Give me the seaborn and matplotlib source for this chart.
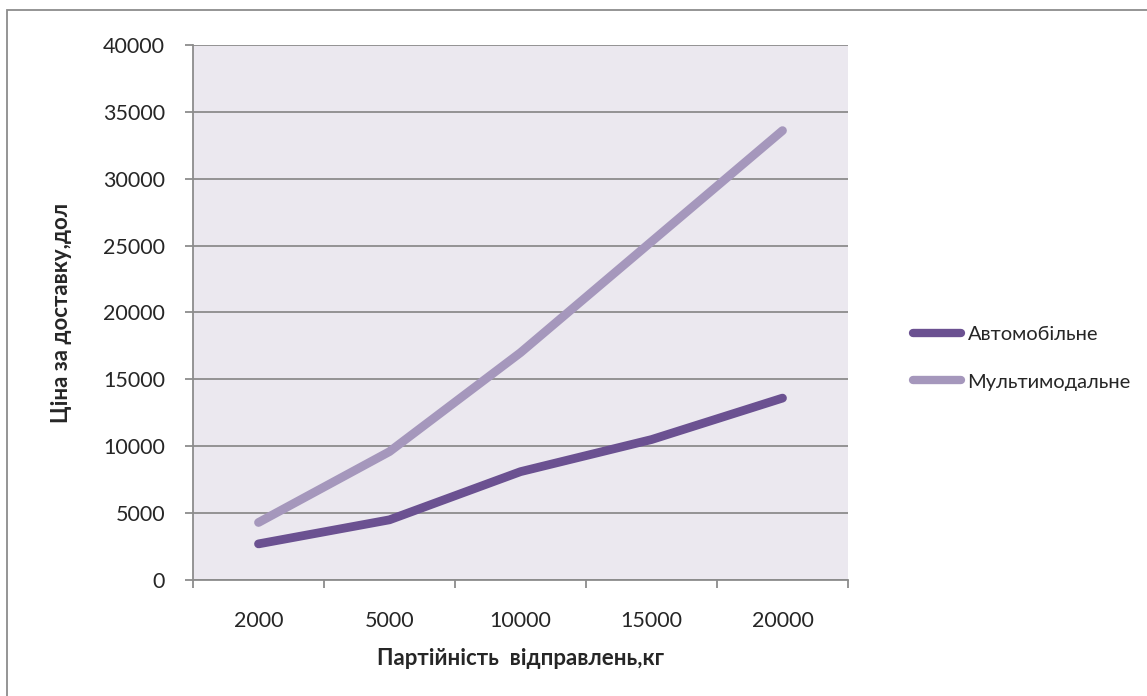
import matplotlib
matplotlib.use("Agg")
import matplotlib.pyplot as plt
from matplotlib.patches import Rectangle
from matplotlib.lines import Line2D
import pandas as pd
import seaborn as sns

# Shipment sizes (kg) and delivery prices (USD)
batches = ["2000", "5000", "10000", "15000", "20000"]
road = [2700, 4500, 8100, 10500, 13600]
multimodal = [4300, 9600, 17000, 25300, 33600]
series_names = ["Автомобільне", "Мультимодальне"]
y_ticks = [0, 5000, 10000, 15000, 20000, 25000, 30000, 35000, 40000]

colors = {"Автомобільне": "#6B5191", "Мультимодальне": "#A597BC"}

df = pd.DataFrame({
    "batch": batches * 2,
    "price": road + multimodal,
    "mode": [series_names[0]] * len(batches) + [series_names[1]] * len(batches),
})

sns.set_style("white")
plt.rcParams["font.family"] = ["Lato", "DejaVu Sans"]

fig = plt.figure(figsize=(11.47, 6.96), dpi=100)
W, H = 1147, 696
ax = fig.add_axes([193 / W, 1 - 580 / H, (848 - 193) / W, (580 - 45) / H])
ax.set_facecolor("#EBE8EF")

sns.lineplot(data=df, x="batch", y="price", hue="mode", palette=colors,
             linewidth=6.3, ax=ax, legend=False, sort=False)
for ln in ax.lines:
    ln.set_solid_capstyle("round")
    ln.set_solid_joinstyle("round")

ax.set_xlim(-0.5, len(batches) - 0.5)
ax.set_ylim(0, 40000)
ax.set_yticks(y_ticks)
ax.set_yticklabels([str(v) for v in y_ticks])
ax.grid(axis="y", color="#8C8C8C", linewidth=1.3)
ax.set_axisbelow(True)

# Category ticks at boundaries, labels at centres
ax.set_xticks([i - 0.5 for i in range(len(batches) + 1)], minor=False)
ax.set_xticklabels([""] * (len(batches) + 1))
ax.set_xticks(range(len(batches)), minor=True)
ax.set_xticklabels(batches, minor=True)
ax.tick_params(axis="x", which="major", direction="out", length=6, width=1.3,
               color="#8C8C8C", bottom=True)
ax.tick_params(axis="x", which="minor", length=0, pad=22, labelsize=15.5)
ax.tick_params(axis="y", direction="out", length=6, width=1.3,
               color="#8C8C8C", left=True, labelsize=15.5, pad=14)

for side in ["top", "right"]:
    ax.spines[side].set_visible(False)
for side in ["left", "bottom"]:
    ax.spines[side].set_color("#8C8C8C")
    ax.spines[side].set_linewidth(1.3)

ax.set_xlabel("Партійність  відправлень,кг", fontsize=16, fontweight="bold")
ax.set_ylabel("Ціна за доставку,дол", fontsize=16, fontweight="bold")
ax.xaxis.set_label_coords(0.5, (580 - 648) / 535)
ax.yaxis.set_label_coords((72 - 193) / 655, 0.5)

handles = [Line2D([0], [0], color=colors[n], linewidth=6, solid_capstyle="round")
           for n in series_names]
fig.legend(handles, series_names, loc="upper left",
           bbox_to_anchor=(895 / W, 1 - 308 / H), frameon=False, fontsize=14.5,
           handlelength=2.4, handletextpad=0.3, labelspacing=1.5)

# Outer chart frame
fig.patches.append(Rectangle((7 / W, -0.1), 1.2, 1 - 10 / H + 0.1,
                             transform=fig.transFigure, fill=False,
                             edgecolor="#8C8C8C", linewidth=1.3))

fig.savefig("out.png", dpi=100)
